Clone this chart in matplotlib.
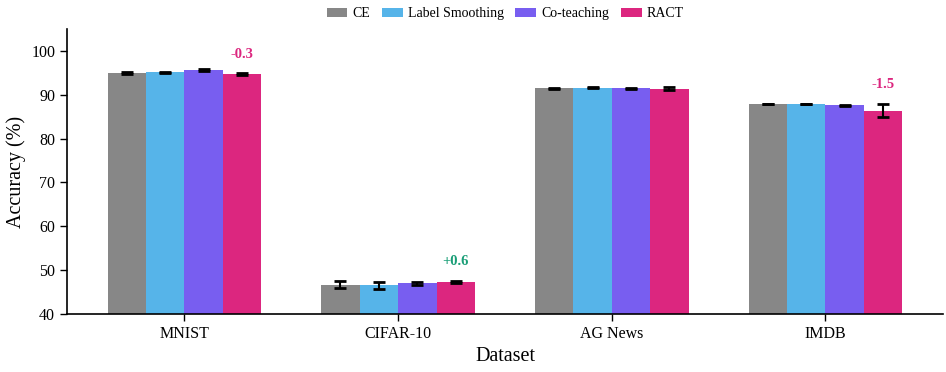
import matplotlib
matplotlib.use("Agg")
import matplotlib.pyplot as plt
import numpy as np

plt.rcParams['font.family'] = ['Liberation Serif', 'DejaVu Serif']

datasets = ["MNIST", "CIFAR-10", "AG News", "IMDB"]
methods = ["CE", "Label Smoothing", "Co-teaching", "RACT"]
colors = ["#878787", "#56b4e9", "#785ef0", "#dc267f"]

means = {
    "CE": [95.0, 46.7, 91.5, 87.9],
    "Label Smoothing": [95.1, 46.5, 91.6, 87.9],
    "Co-teaching": [95.6, 47.0, 91.5, 87.6],
    "RACT": [94.7, 47.3, 91.4, 86.4],
}
errs = {
    "CE": [0.2, 0.8, 0.1, 0.1],
    "Label Smoothing": [0.2, 0.8, 0.1, 0.1],
    "Co-teaching": [0.2, 0.3, 0.1, 0.1],
    "RACT": [0.2, 0.2, 0.3, 1.5],
}
deltas = ["-0.3", "+0.6", None, "-1.5"]

fig = plt.figure(figsize=(9.46, 3.72), dpi=100)
ax = fig.add_axes([0.0708, 0.156, 0.926, 0.766])

x = np.arange(len(datasets))
w = 0.18
for i, m in enumerate(methods):
    pos = x + (i - 1.5) * w
    ax.bar(pos, means[m], w, color=colors[i], label=m, yerr=errs[m],
           capsize=4, error_kw=dict(elinewidth=1.5, capthick=2, ecolor='black'))

for j, d in enumerate(deltas):
    if d is None:
        continue
    top = means["RACT"][j] + errs["RACT"][j]
    col = "#1a9e77" if d.startswith("+") else "#dc267f"
    ax.text(x[j] + 1.5 * w, top + 2.9, d, ha='center', va='bottom',
            color=col, fontsize=10.5, fontweight='bold')

ax.set_xlim(-0.55, 3.55)
ax.set_ylim(40, 105)
ax.set_yticks([40, 50, 60, 70, 80, 90, 100])
ax.set_xticks(x)
ax.set_xticklabels(datasets)
ax.tick_params(labelsize=11.5, length=5, width=1)
ax.set_xlabel("Dataset", fontsize=14.5)
ax.set_ylabel("Accuracy (%)", fontsize=14.5)
for s in ["top", "right"]:
    ax.spines[s].set_visible(False)
for s in ["left", "bottom"]:
    ax.spines[s].set_linewidth(1.2)

ax.legend(ncol=4, loc='upper center', bbox_to_anchor=(0.5, 1.12), frameon=False,
          fontsize=10, handlelength=1.5, handleheight=0.55, columnspacing=0.85,
          handletextpad=0.35)

fig.savefig("out.png", dpi=100)
